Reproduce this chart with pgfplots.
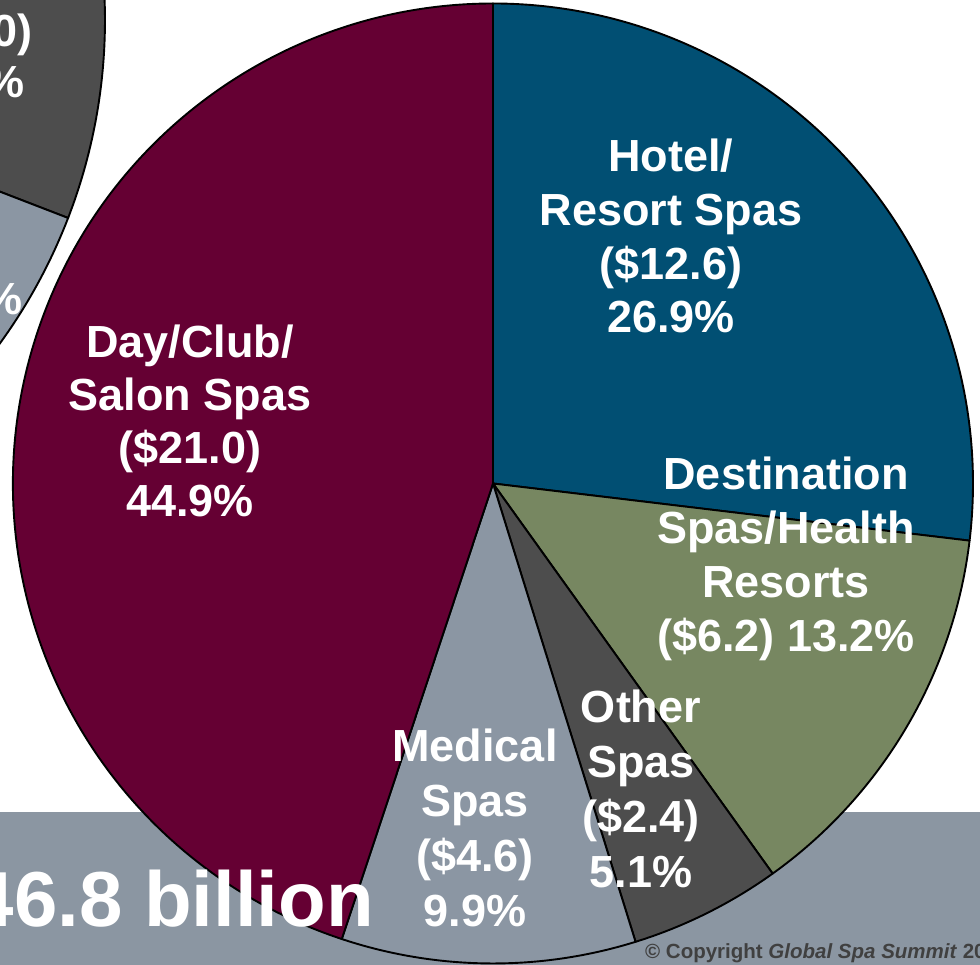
\documentclass[border=0pt]{standalone}
\usepackage{pgfplots}
\pgfplotsset{compat=1.18}
\usepackage{fontspec}
\setmainfont{Liberation Sans}
\definecolor{hotel}{HTML}{014F73}
\definecolor{dest}{HTML}{778761}
\definecolor{other}{HTML}{4D4D4D}
\definecolor{medical}{HTML}{8B96A3}
\definecolor{day}{HTML}{650033}
\definecolor{band}{HTML}{8B96A2}
\definecolor{copy}{HTML}{404040}
% shares in percent (clockwise from 12 o'clock)
\def\pHotel{26.9}\def\pDest{13.2}\def\pOther{5.1}\def\pMed{9.9}\def\pDay{44.9}
\pgfmathsetmacro\aA{90}
\pgfmathsetmacro\aB{\aA-3.6*\pHotel}
\pgfmathsetmacro\aC{\aB-3.6*\pDest}
\pgfmathsetmacro\aD{\aC-3.6*\pOther}
\pgfmathsetmacro\aE{\aD-3.6*\pMed}
\pgfmathsetmacro\aF{\aE-3.6*\pDay}
\newcommand{\slice}[3]{\filldraw[fill=#1, draw=black, line width=1.9pt, line join=round] (axis cs:493,481.5) -- ++(#2:480pt) arc[start angle=#2, end angle=#3, radius=480pt] -- cycle;}
\newcommand{\lbl}[3]{\node[anchor=base, text=white, inner sep=0pt, font=\fontsize{45}{54}\selectfont\bfseries] at (axis cs:#1,#2) {#3};}
\begin{document}
\begin{tikzpicture}[x=1pt,y=1pt]
\useasboundingbox (0,0) rectangle (980,965);
\clip (0,0) rectangle (980,965);
\begin{axis}[x=1pt, y=1pt, xmin=0, xmax=980, ymin=0, ymax=965, hide axis, clip=false, at={(0pt,0pt)}, anchor=south west]
\fill[white] (axis cs:0,0) rectangle (axis cs:980,965);
% partially visible neighbouring pie (upper left)
\filldraw[fill=other, draw=black, line width=1.9pt] (axis cs:-445,945) -- ++(-21.1:550pt) arc[start angle=-21.1, end angle=90, radius=550pt] -- cycle;
\filldraw[fill=medical, draw=black, line width=1.9pt] (axis cs:-445,945) -- ++(-100:550pt) arc[start angle=-100, end angle=-21.1, radius=550pt] -- cycle;
\node[anchor=base east, text=white, inner sep=0pt, font=\fontsize{45}{54}\selectfont\bfseries] at (axis cs:33,918) {0)};
\node[anchor=base east, text=white, inner sep=0pt, font=\fontsize{45}{54}\selectfont\bfseries] at (axis cs:25,867) {\%};
\node[anchor=base east, text=white, inner sep=0pt, font=\fontsize{45}{54}\selectfont\bfseries] at (axis cs:23,650) {\%};
% bottom band
\fill[band] (axis cs:0,0) rectangle (axis cs:980,153);
% main pie
\slice{hotel}{\aA}{\aB}
\slice{dest}{\aB}{\aC}
\slice{other}{\aC}{\aD}
\slice{medical}{\aD}{\aE}
\slice{day}{\aE}{\aF}
% labels
\lbl{671}{793}{Hotel/}
\lbl{671}{739}{Resort Spas}
\lbl{671}{685}{(\$12.6)}
\lbl{671}{632}{26.9\%}
\lbl{190}{607}{Day/Club/}
\lbl{190}{554}{Salon Spas}
\lbl{190}{501}{(\$21.0)}
\lbl{190}{448}{44.9\%}
\lbl{786}{475}{Destination}
\lbl{786}{421}{Spas/Health}
\lbl{786}{367}{Resorts}
\lbl{786}{313}{(\$6.2) 13.2\%}
\lbl{475}{203}{Medical}
\lbl{475}{148}{Spas}
\lbl{475}{93}{(\$4.6)}
\lbl{475}{38}{9.9\%}
\lbl{641}{242}{Other}
\lbl{641}{187}{Spas}
\lbl{641}{132}{(\$2.4)}
\lbl{641}{77}{5.1\%}
\node[anchor=base east, text=white, inner sep=0pt, font=\fontsize{78}{90}\selectfont\bfseries] at (axis cs:374,38) {\$46.8 billion};
\node[anchor=base west, text=copy, inner sep=0pt, font=\fontsize{20.5}{24}\selectfont\bfseries] at (axis cs:645,6) {© Copyright \textit{Global Spa Summit} 2010};
\end{axis}
\end{tikzpicture}
\end{document}
